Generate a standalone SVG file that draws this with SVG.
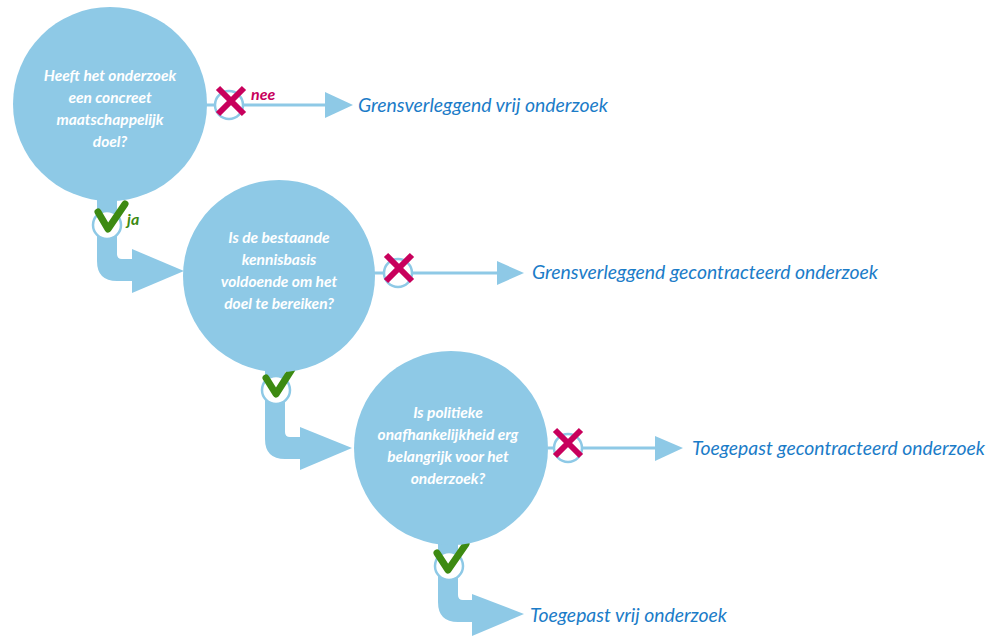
<svg xmlns="http://www.w3.org/2000/svg" width="989" height="636" viewBox="0 0 989 636">
<defs>
<style>
.q{fill:#8ec9e6}
.band{fill:#8ec9e6}
.qt{font-family:Lato,"Open Sans","DejaVu Sans",sans-serif;font-style:italic;font-weight:bold;font-size:15.5px;fill:#ffffff;text-anchor:middle}
.out{font-family:Lato,"Open Sans","DejaVu Sans",sans-serif;font-style:italic;font-size:19px;fill:#1b7cc8}
.ln{stroke:#8ec9e6;stroke-width:3;fill:none}
.dot{fill:#ffffff;stroke:#8ec9e6;stroke-width:2.5}
.x{stroke:#c8005c;stroke-width:6;fill:none}
.ok{stroke:#3d8a12;stroke-width:7;fill:none;stroke-linecap:round;stroke-linejoin:round}
.nee{font-family:Lato,"Open Sans",sans-serif;font-style:italic;font-weight:bold;font-size:16px;fill:#c8005c}
.ja{font-family:Lato,"Open Sans",sans-serif;font-style:italic;font-weight:bold;font-size:16px;fill:#3d8a12}
</style>
</defs>
<g id="connectors">
  <line class="ln" x1="205" y1="105" x2="328" y2="105"/>
  <polygon class="band" points="325,92 353,105 325,118"/>
  <line class="ln" x1="372" y1="273" x2="500" y2="273"/>
  <polygon class="band" points="497,261 524,273 497,285"/>
  <line class="ln" x1="548" y1="448" x2="658" y2="448"/>
  <polygon class="band" points="655,436 683,448 655,461"/>
  <path class="band" d="M97,190 V261 Q97,281 117,281 H135 V259 H122 Q117,259 117,254 V190 Z"/>
  <polygon class="band" points="132,249 184,271 132,293"/>
  <path class="band" d="M265,360 V439 Q265,459 285,459 H303 V437 H290 Q285,437 285,432 V360 Z"/>
  <polygon class="band" points="300,427 352,448 300,470"/>
  <path class="band" d="M438,530 V602 Q438,622 458,622 H475 V600 H463 Q458,600 458,595 V530 Z"/>
  <polygon class="band" points="472,594 524,614 472,636"/>
  <circle class="dot" cx="229" cy="105" r="14"/>
  <path class="x" d="M218,88 L244,114 M244,88 L218,114"/>
  <text class="nee" x="251" y="100">nee</text>
  <circle class="dot" cx="398" cy="273" r="14"/>
  <path class="x" d="M386,255 L412,281 M412,255 L386,281"/>
  <circle class="dot" cx="568" cy="448" r="14"/>
  <path class="x" d="M555,430 L581,456 M581,430 L555,456"/>
  <circle class="dot" cx="107" cy="225" r="14"/>
  <path class="ok" d="M98,212 L108,229 L125,204"/>
  <text class="ja" x="127" y="225">ja</text>
  <circle class="dot" cx="276" cy="390" r="14"/>
  <path class="ok" d="M266,378 L276,394 L292,369"/>
  <circle class="dot" cx="449" cy="566" r="14"/>
  <path class="ok" d="M437,553 L448,570 L466,544"/>
</g>
<g id="q1">
  <circle class="q" cx="110" cy="104" r="97"/>
  <text class="qt" x="110" y="81">Heeft het onderzoek</text>
  <text class="qt" x="110" y="103">een concreet</text>
  <text class="qt" x="110" y="125">maatschappelijk</text>
  <text class="qt" x="110" y="147">doel?</text>
</g>
<g id="q2">
  <circle class="q" cx="279" cy="276" r="96"/>
  <text class="qt" x="279" y="243">Is de bestaande</text>
  <text class="qt" x="279" y="265">kennisbasis</text>
  <text class="qt" x="279" y="287">voldoende om het</text>
  <text class="qt" x="279" y="309">doel te bereiken?</text>
</g>
<g id="q3">
  <circle class="q" cx="451" cy="448" r="97"/>
  <text class="qt" x="448" y="418">Is politieke</text>
  <text class="qt" x="448" y="440">onafhankelijkheid erg</text>
  <text class="qt" x="448" y="462">belangrijk voor het</text>
  <text class="qt" x="448" y="484">onderzoek?</text>
</g>
<g id="o1"><text class="out" x="358" y="112" textLength="250" lengthAdjust="spacingAndGlyphs">Grensverleggend vrij onderzoek</text></g>
<g id="o2"><text class="out" x="532" y="279" textLength="346" lengthAdjust="spacingAndGlyphs">Grensverleggend gecontracteerd onderzoek</text></g>
<g id="o3"><text class="out" x="692" y="455" textLength="293" lengthAdjust="spacingAndGlyphs">Toegepast gecontracteerd onderzoek</text></g>
<g id="o4"><text class="out" x="530" y="622" textLength="197" lengthAdjust="spacingAndGlyphs">Toegepast vrij onderzoek</text></g>
</svg>
